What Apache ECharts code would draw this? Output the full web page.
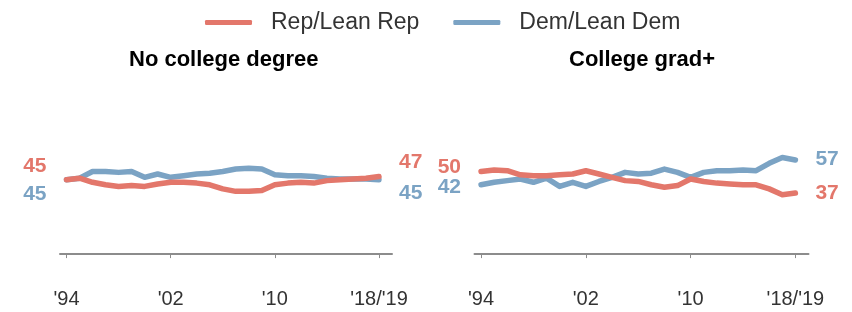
<!DOCTYPE html>
<html>
<head>
<meta charset="utf-8">
<script src="https://cdn.jsdelivr.net/npm/echarts@6/dist/echarts.min.js"></script>
<style>
  html, body { margin: 0; padding: 0; background: #fff; }
  #main { width: 852px; height: 312px; }
</style>
</head>
<body>
<div id="main"></div>
<script>
// years 1994 .. 2018/19
var years = ['1994', '1995', '1996', '1997', '1998', '1999', '2000', '2001', '2002', '2003',
  '2004', '2005', '2006', '2007', '2008', '2009', '2010', '2011', '2012', '2013',
  '2014', '2015', '2016', '2017', '2018/19'];
var tickIndex = [0, 8, 16, 24];
var tickText = ["'94", "'02", "'10", "'18/'19"];

// No college degree
var noCollegeRep = [45, 46, 43.5, 42, 41, 41.5, 41, 42.5, 43.5, 43.5, 43, 42, 39.5, 38, 38, 38.5,
  42, 43, 43.5, 43, 44.5, 45, 45.5, 46, 47];
var noCollegeDem = [45, 46, 50, 50, 49.5, 50, 46.5, 48.5, 46.5, 47.5, 48.5, 49, 50, 51.5, 52, 51.5,
  48, 47.5, 47.5, 47, 46, 45.5, 45.5, 45.5, 45];
// College grad+
var gradRep = [50, 51, 50.5, 48, 47.5, 47.5, 48, 48.5, 50.5, 48.5, 46.5, 44.5, 44, 42, 40.5, 41.5,
  45.5, 44, 43, 42.5, 42, 42, 39.5, 36, 37];
var gradDem = [42, 43.5, 44.5, 45.5, 43.5, 46, 41, 43.5, 41, 44, 46.5, 49.5, 48.5, 49, 51.5, 49.5,
  46.5, 49.5, 50.5, 50.5, 51, 50.5, 55, 58.5, 57];

var RED = '#e3776b';
var BLUE = '#7ba3c4';
var FONT = 'Liberation Sans';

function pts(vals, color, startOff, endOff) {
  return vals.map(function (v, i) {
    var item = { value: [i, v] };
    if (i === 0 || i === vals.length - 1) {
      item.label = {
        show: true,
        position: i === 0 ? 'left' : 'right',
        distance: 20,
        offset: [0, i === 0 ? startOff : endOff],
        color: color,
        fontSize: 21,
        fontWeight: 'bold',
        fontFamily: FONT,
        formatter: function (p) { return p.value[1]; }
      };
    }
    return item;
  });
}

function xAxisFor(gi) {
  return {
    type: 'value',
    gridIndex: gi,
    min: -0.5,
    max: 25,
    splitLine: { show: false },
    axisLine: { show: true, lineStyle: { color: '#8c8c8c', width: 2 } },
    axisTick: { show: true, customValues: tickIndex, length: 4, lineStyle: { color: '#8c8c8c', width: 1 } },
    axisLabel: {
      customValues: tickIndex,
      margin: 34,
      fontSize: 20,
      color: '#333',
      fontFamily: FONT,
      formatter: function (v) { return tickText[tickIndex.indexOf(v)]; }
    }
  };
}

function lineSeries(name, gi, data, color) {
  return {
    name: name,
    type: 'line',
    xAxisIndex: gi,
    yAxisIndex: gi,
    color: color,
    showSymbol: true,
    symbolSize: 0,
    animation: false,
    lineStyle: { width: 5.5, color: color, cap: 'round', join: 'round' },
    data: data
  };
}

var chart = echarts.init(document.getElementById('main'));
chart.setOption({
  backgroundColor: '#fff',
  title: [
    { text: 'No college degree', left: 124, top: 44, textStyle: { fontSize: 22, fontWeight: 'bold', color: '#000', fontFamily: FONT } },
    { text: 'College grad+', left: 564, top: 44, textStyle: { fontSize: 22, fontWeight: 'bold', color: '#000', fontFamily: FONT } }
  ],
  legend: {
    left: 200,
    top: 6,
    icon: 'roundRect',
    itemWidth: 47,
    itemHeight: 5,
    itemGap: 34,
    data: ['Rep/Lean Rep', 'Dem/Lean Dem'],
    textStyle: { fontSize: 23, color: '#333', fontFamily: FONT, padding: [0, 0, 0, 14] }
  },
  grid: [
    { left: 60, width: 332, top: 89, height: 166.75 },
    { left: 474.5, width: 334, top: 89, height: 166.75 }
  ],
  xAxis: [xAxisFor(0), xAxisFor(1)],
  yAxis: [
    { type: 'value', gridIndex: 0, min: -1, max: 100, show: false },
    { type: 'value', gridIndex: 1, min: -1, max: 100, show: false }
  ],
  series: [
    lineSeries('Dem/Lean Dem', 0, pts(noCollegeDem, BLUE, 14, 13), BLUE),
    lineSeries('Rep/Lean Rep', 0, pts(noCollegeRep, RED, -14, -14), RED),
    lineSeries('Dem/Lean Dem', 1, pts(gradDem, BLUE, 2.5, -1), BLUE),
    lineSeries('Rep/Lean Rep', 1, pts(gradRep, RED, -4, 0), RED)
  ]
});
</script>
</body>
</html>
